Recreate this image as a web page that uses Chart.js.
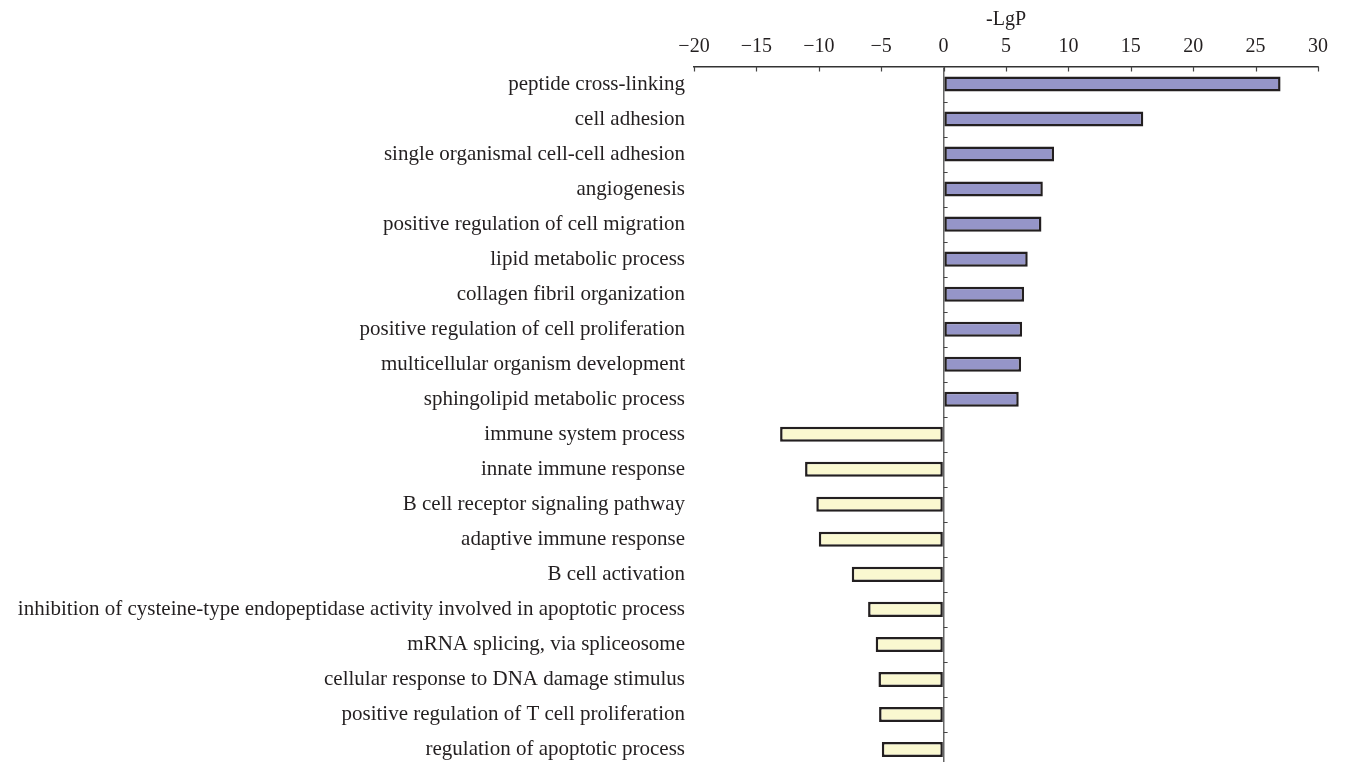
<!DOCTYPE html>
<html>
<head>
<meta charset="utf-8">
<script src="https://cdn.jsdelivr.net/npm/chart.js@4.4.1/dist/chart.umd.min.js"></script>
<style>
  html, body { margin: 0; padding: 0; overflow: hidden; background: #fff; }
  #wrap { width: 1345px; height: 767px; }
</style>
</head>
<body>
<div id="wrap"><canvas id="goChart" width="1345" height="767"></canvas></div>
<script>
// GO terms (biological process) and their -LgP values
const categories = [
    'peptide cross-linking',
    'cell adhesion',
    'single organismal cell-cell adhesion',
    'angiogenesis',
    'positive regulation of cell migration',
    'lipid metabolic process',
    'collagen fibril organization',
    'positive regulation of cell proliferation',
    'multicellular organism development',
    'sphingolipid metabolic process',
    'immune system process',
    'innate immune response',
    'B cell receptor signaling pathway',
    'adaptive immune response',
    'B cell activation',
    'inhibition of cysteine-type endopeptidase activity involved in apoptotic process',
    'mRNA splicing, via spliceosome',
    'cellular response to DNA damage stimulus',
    'positive regulation of T cell proliferation',
    'regulation of apoptotic process'
];

const lgpValues = [27.0, 16.0, 8.85, 7.95, 7.84, 6.74, 6.45, 6.29, 6.21, 6.02,
    -13.1, -11.1, -10.2, -10.0, -7.36, -6.05, -5.44, -5.22, -5.17, -4.95];

const xTicks = [-20, -15, -10, -5, 0, 5, 10, 15, 20, 25, 30];

const upColor = '#9595c8';
const downColor = '#faf8d0';
const serif = '"Liberation Serif", "Times New Roman", serif';

// small inward tick marks on the top axis and on the zero line
const tickMarks = {
    id: 'tickMarks',
    afterDatasetsDraw(chart) {
        const { ctx, chartArea, scales: { x, y } } = chart;
        ctx.save();
        ctx.strokeStyle = '#444';
        ctx.lineWidth = 1.2;
        ctx.beginPath();
        xTicks.forEach(v => {
            const px = Math.round(x.getPixelForValue(v)) + 0.5;
            ctx.moveTo(px, chartArea.top);
            ctx.lineTo(px, chartArea.top + 5);
        });
        const zx = x.getPixelForValue(0);
        const half = (y.getPixelForValue(1) - y.getPixelForValue(0)) / 2;
        for (let i = 0; i < categories.length; i++) {
            const py = Math.round(y.getPixelForValue(i) + half) + 0.5;
            ctx.moveTo(zx, py);
            ctx.lineTo(zx + 4, py);
        }
        ctx.stroke();
        ctx.restore();
    }
};

const ctx = document.getElementById('goChart').getContext('2d');
new Chart(ctx, {
    type: 'bar',
    data: {
        labels: categories,
        datasets: [{
            data: lgpValues,
            backgroundColor: lgpValues.map(v => v >= 0 ? upColor : downColor),
            borderColor: '#231f20',
            borderWidth: 2.5,
            borderSkipped: false,
            barPercentage: 0.43,
            categoryPercentage: 1
        }]
    },
    options: {
        indexAxis: 'y',
        responsive: false,
        animation: false,
        devicePixelRatio: 1,
        layout: { padding: { left: 0, right: 27, top: 0, bottom: 0 } },
        plugins: {
            legend: { display: false },
            tooltip: { enabled: false }
        },
        scales: {
            x: {
                type: 'linear',
                position: 'top',
                min: -20,
                max: 30,
                afterBuildTicks: scale => { scale.ticks = xTicks.map(v => ({ value: v })); },
                afterFit: scale => { scale.height = 66.5; },
                ticks: {
                    padding: 8,
                    color: '#231f20',
                    font: { family: serif, size: 20 },
                    callback: v => v < 0 ? '\u2212' + Math.abs(v) : String(v)
                },
                grid: {
                    drawTicks: false,
                    lineWidth: 1.5,
                    color: c => (c.tick && c.tick.value === 0) ? '#666' : 'rgba(0,0,0,0)'
                },
                border: { display: true, color: '#333', width: 1.5 },
                title: {
                    display: true,
                    text: '-LgP',
                    color: '#231f20',
                    font: { family: serif, size: 20 },
                    padding: { top: 8, bottom: 0 }
                }
            },
            y: {
                afterFit: scale => {
                    scale.width = 694;
                    scale.paddingTop = 0;
                    scale.paddingBottom = 0;
                },
                ticks: {
                    padding: 9,
                    color: '#231f20',
                    font: { family: serif, size: 21 }
                },
                grid: { display: false, drawTicks: false },
                border: { display: false }
            }
        }
    },
    plugins: [tickMarks]
});
</script>
</body>
</html>
